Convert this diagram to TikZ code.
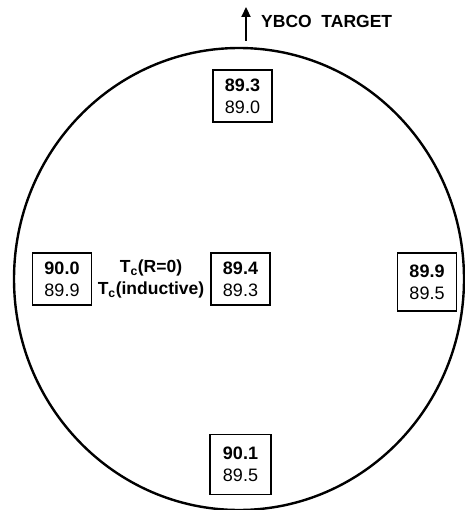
\documentclass[tikz,border=0pt]{standalone}
\usepackage{fontspec}
\setmainfont{Liberation Sans}
\usetikzlibrary{arrows.meta}
\tikzset{
  cell/.style={draw, line width=1.5pt, minimum width=59pt, minimum height=52pt,
    inner sep=0pt, align=center, font=\fontsize{18}{22}\selectfont},
  legend/.style={inner sep=0pt, align=center, font=\bfseries\fontsize{17.5}{22}\selectfont},
  wafer/.style={line width=2.4pt},
  pointer/.style={line width=2.2pt, -{Triangle[width=9pt,length=10pt]}},
}
\begin{document}
\begin{tikzpicture}[x=1pt,y=-1pt]
  \useasboundingbox (0,0) rectangle (464,510);
  % wafer outline
  \draw[wafer] (239,279) ellipse [x radius=225, y radius=231];
  % target direction
  \coordinate (arrowfoot) at (246,41);
  \coordinate (arrowtip) at (246,7);
  \draw[pointer] (arrowfoot) -- (arrowtip);
  \node[anchor=west, font=\bfseries\fontsize{17.5}{20}\selectfont, inner sep=0pt] (target) at (261,21) {YBCO\ \ TARGET};
  % measurement sites
  \node[cell] (top) at (242.5,96) {\textbf{89.3}\\89.0};
  \node[cell] (left) at (62,279) {\textbf{90.0}\\89.9};
  \node[cell] (center) at (240.5,279) {\textbf{89.4}\\89.3};
  \node[cell, minimum height=58pt] (right) at (427,282) {\textbf{89.9}\\89.5};
  \node[cell, minimum width=61pt, minimum height=60pt] (bottom) at (240.5,464.5) {\textbf{90.1}\\89.5};
  % legend
  \node[legend] (key) at (151,279) {T\textsubscript{c}(R=0)\\T\textsubscript{c}(inductive)};
\end{tikzpicture}
\end{document}
